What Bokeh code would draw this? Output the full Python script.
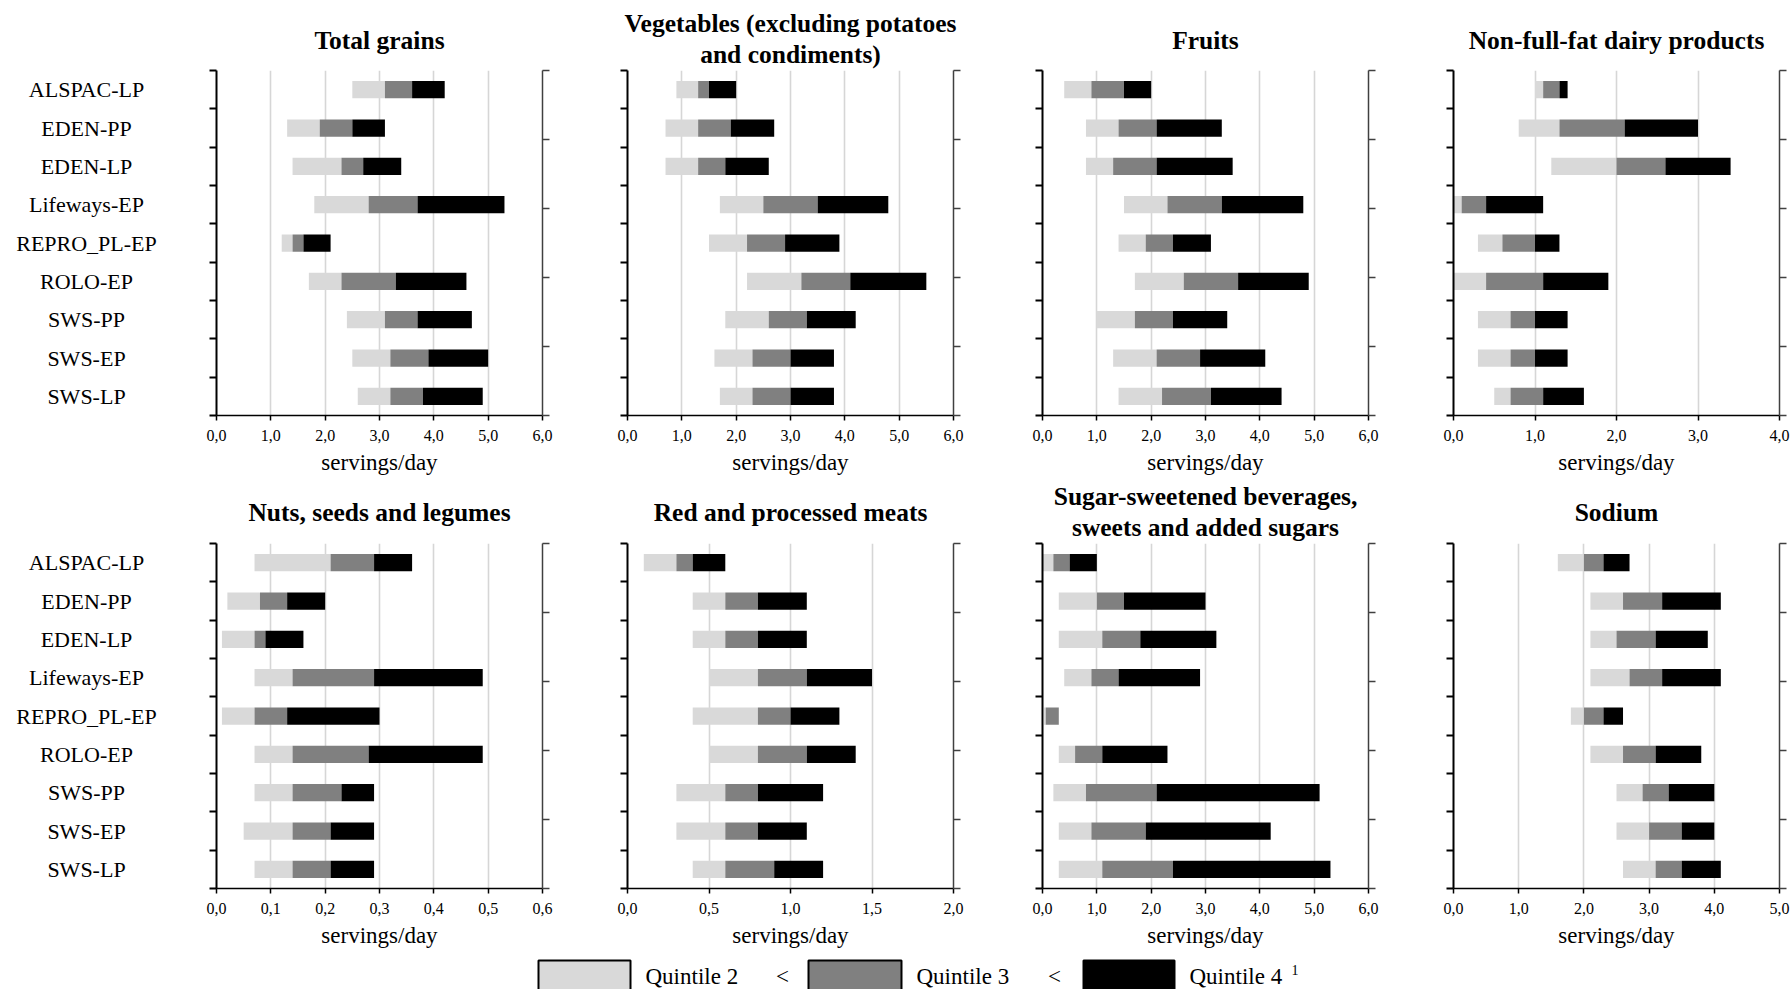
from bokeh.plotting import figure
from bokeh.models import (Range1d, FixedTicker, LinearAxis, CustomJSTickFormatter,
                          Title, Grid, ColumnDataSource)
from bokeh.layouts import row, column
from bokeh.embed import file_html
from bokeh.resources import INLINE
from bokeh.core.properties import value

FONT = "Liberation Serif"

cohorts = ["ALSPAC-LP", "EDEN-PP", "EDEN-LP", "Lifeways-EP", "REPRO_PL-EP",
           "ROLO-EP", "SWS-PP", "SWS-EP", "SWS-LP"]
quintile_names = ["Quintile 2", "Quintile 3", "Quintile 4"]
quintile_colors = ["#d9d9d9", "#808080", "#000000"]
x_label = "servings/day"

# cut-offs (servings/day): start of Q2, start of Q3, start of Q4, end of Q4
grains_c1 = [2.5, 1.3, 1.4, 1.8, 1.2, 1.7, 2.4, 2.5, 2.6]
grains_c2 = [3.1, 1.9, 2.3, 2.8, 1.4, 2.3, 3.1, 3.2, 3.2]
grains_c3 = [3.6, 2.5, 2.7, 3.7, 1.6, 3.3, 3.7, 3.9, 3.8]
grains_c4 = [4.2, 3.1, 3.4, 5.3, 2.1, 4.6, 4.7, 5.0, 4.9]

veg_c1 = [0.9, 0.7, 0.7, 1.7, 1.5, 2.2, 1.8, 1.6, 1.7]
veg_c2 = [1.3, 1.3, 1.3, 2.5, 2.2, 3.2, 2.6, 2.3, 2.3]
veg_c3 = [1.5, 1.9, 1.8, 3.5, 2.9, 4.1, 3.3, 3.0, 3.0]
veg_c4 = [2.0, 2.7, 2.6, 4.8, 3.9, 5.5, 4.2, 3.8, 3.8]

fruit_c1 = [0.4, 0.8, 0.8, 1.5, 1.4, 1.7, 1.0, 1.3, 1.4]
fruit_c2 = [0.9, 1.4, 1.3, 2.3, 1.9, 2.6, 1.7, 2.1, 2.2]
fruit_c3 = [1.5, 2.1, 2.1, 3.3, 2.4, 3.6, 2.4, 2.9, 3.1]
fruit_c4 = [2.0, 3.3, 3.5, 4.8, 3.1, 4.9, 3.4, 4.1, 4.4]

dairy_c1 = [1.0, 0.8, 1.2, 0.0, 0.3, 0.0, 0.3, 0.3, 0.5]
dairy_c2 = [1.1, 1.3, 2.0, 0.1, 0.6, 0.4, 0.7, 0.7, 0.7]
dairy_c3 = [1.3, 2.1, 2.6, 0.4, 1.0, 1.1, 1.0, 1.0, 1.1]
dairy_c4 = [1.4, 3.0, 3.4, 1.1, 1.3, 1.9, 1.4, 1.4, 1.6]

nuts_c1 = [0.07, 0.02, 0.01, 0.07, 0.01, 0.07, 0.07, 0.05, 0.07]
nuts_c2 = [0.21, 0.08, 0.07, 0.14, 0.07, 0.14, 0.14, 0.14, 0.14]
nuts_c3 = [0.29, 0.13, 0.09, 0.29, 0.13, 0.28, 0.23, 0.21, 0.21]
nuts_c4 = [0.36, 0.20, 0.16, 0.49, 0.30, 0.49, 0.29, 0.29, 0.29]

meat_c1 = [0.1, 0.4, 0.4, 0.5, 0.4, 0.5, 0.3, 0.3, 0.4]
meat_c2 = [0.3, 0.6, 0.6, 0.8, 0.8, 0.8, 0.6, 0.6, 0.6]
meat_c3 = [0.4, 0.8, 0.8, 1.1, 1.0, 1.1, 0.8, 0.8, 0.9]
meat_c4 = [0.6, 1.1, 1.1, 1.5, 1.3, 1.4, 1.2, 1.1, 1.2]

sugar_c1 = [0.0, 0.3, 0.3, 0.4, 0.03, 0.3, 0.2, 0.3, 0.3]
sugar_c2 = [0.2, 1.0, 1.1, 0.9, 0.06, 0.6, 0.8, 0.9, 1.1]
sugar_c3 = [0.5, 1.5, 1.8, 1.4, 0.3, 1.1, 2.1, 1.9, 2.4]
sugar_c4 = [1.0, 3.0, 3.2, 2.9, 0.3, 2.3, 5.1, 4.2, 5.3]

sodium_c1 = [1.6, 2.1, 2.1, 2.1, 1.8, 2.1, 2.5, 2.5, 2.6]
sodium_c2 = [2.0, 2.6, 2.5, 2.7, 2.0, 2.6, 2.9, 3.0, 3.1]
sodium_c3 = [2.3, 3.2, 3.1, 3.2, 2.3, 3.1, 3.3, 3.5, 3.5]
sodium_c4 = [2.7, 4.1, 3.9, 4.1, 2.6, 3.8, 4.0, 4.0, 4.1]

ticks_6 = [0, 1, 2, 3, 4, 5, 6]
ticks_4 = [0, 1, 2, 3, 4]
ticks_5 = [0, 1, 2, 3, 4, 5]
ticks_nuts = [0, 0.1, 0.2, 0.3, 0.4, 0.5, 0.6]
ticks_meat = [0, 0.5, 1.0, 1.5, 2.0]

panels_row1 = [
    (["Total grains"], (grains_c1, grains_c2, grains_c3, grains_c4), ticks_6),
    (["Vegetables (excluding potatoes", "and condiments)"], (veg_c1, veg_c2, veg_c3, veg_c4), ticks_6),
    (["Fruits"], (fruit_c1, fruit_c2, fruit_c3, fruit_c4), ticks_6),
    (["Non-full-fat dairy products"], (dairy_c1, dairy_c2, dairy_c3, dairy_c4), ticks_4),
]
panels_row2 = [
    (["Nuts, seeds and legumes"], (nuts_c1, nuts_c2, nuts_c3, nuts_c4), ticks_nuts),
    (["Red and processed meats"], (meat_c1, meat_c2, meat_c3, meat_c4), ticks_meat),
    (["Sugar-sweetened beverages,", "sweets and added sugars"], (sugar_c1, sugar_c2, sugar_c3, sugar_c4), ticks_6),
    (["Sodium"], (sodium_c1, sodium_c2, sodium_c3, sodium_c4), ticks_5),
]

FRAME_W = 326
FRAME_H = 345
LABEL_W = 186
LABEL_CENTER = 86
col_borders = [(30, 42), (43, 44), (45, 42), (43, 12)]
# (top border, bottom border, single-line title standoff)
row_borders = [(70, 64, 31), (63, 64, 33)]

n = len(cohorts)
y_centers = [i + 0.5 for i in range(n)]
fmt = CustomJSTickFormatter(code="return tick.toFixed(1).replace('.', ',');")
blank = CustomJSTickFormatter(code="return '';")


def make_panel(title_lines, cuts, ticks, bl, br, bt, bb, tsd):
    p = figure(frame_width=FRAME_W, frame_height=FRAME_H,
               x_range=Range1d(ticks[0], ticks[-1]), y_range=Range1d(n, 0),
               x_axis_type=None, y_axis_type=None,
               min_border_left=bl, min_border_right=br,
               min_border_top=bt, min_border_bottom=bb,
               output_backend="svg", toolbar_location=None)
    p.outline_line_color = None
    p.background_fill_color = "white"
    p.border_fill_color = "white"

    xaxis = LinearAxis(ticker=FixedTicker(ticks=ticks, minor_ticks=[]), formatter=fmt,
                       axis_label=x_label)
    xaxis.axis_line_width = 1.5
    xaxis.axis_line_color = "black"
    xaxis.major_tick_line_color = "black"
    xaxis.major_tick_line_width = 1.5
    xaxis.major_tick_out = 5
    xaxis.major_tick_in = 0
    xaxis.minor_tick_out = 0
    xaxis.minor_tick_in = 0
    xaxis.major_label_standoff = 9
    xaxis.major_label_text_font = FONT
    xaxis.major_label_text_font_size = "16px"
    xaxis.major_label_text_color = "black"
    xaxis.axis_label_text_font = FONT
    xaxis.axis_label_text_font_size = "23px"
    xaxis.axis_label_text_font_style = "normal"
    xaxis.axis_label_text_color = "black"
    xaxis.axis_label_standoff = 6
    p.add_layout(xaxis, "below")

    p.add_layout(Grid(dimension=0, ticker=xaxis.ticker, grid_line_color="#d6d6d6",
                      grid_line_width=1.6), "center")

    yaxis = LinearAxis(ticker=FixedTicker(ticks=list(range(n + 1)), minor_ticks=[]),
                       formatter=blank)
    yaxis.axis_line_width = 2
    yaxis.axis_line_color = "black"
    yaxis.major_tick_line_width = 2
    yaxis.major_tick_line_color = "black"
    yaxis.major_tick_out = 7
    yaxis.major_tick_in = 0
    yaxis.minor_tick_out = 0
    yaxis.minor_tick_in = 0
    yaxis.major_label_standoff = 0
    p.add_layout(yaxis, "left")

    p.extra_y_ranges = {"sec": Range1d(0, 1)}
    raxis = LinearAxis(y_range_name="sec",
                       ticker=FixedTicker(ticks=[0, 0.2, 0.4, 0.6, 0.8, 1.0], minor_ticks=[]),
                       formatter=blank)
    raxis.axis_line_width = 1.5
    raxis.axis_line_color = "#404040"
    raxis.major_tick_line_width = 1.5
    raxis.major_tick_line_color = "#404040"
    raxis.major_tick_out = 7
    raxis.major_tick_in = 0
    raxis.minor_tick_out = 0
    raxis.minor_tick_in = 0
    raxis.major_label_standoff = 0
    p.add_layout(raxis, "right")

    c1, c2, c3, c4 = cuts
    src = ColumnDataSource(dict(y=y_centers, c1=c1, c2=c2, c3=c3, c4=c4))
    for (l, r), col in zip((("c1", "c2"), ("c2", "c3"), ("c3", "c4")), quintile_colors):
        p.hbar(y="y", left=l, right=r, height=0.45, source=src,
               fill_color=col, line_color=None)

    tkw = dict(align="center", text_font=FONT, text_font_size="25.5px",
               text_font_style="bold", text_color="black")
    if len(title_lines) == 1:
        p.add_layout(Title(text=title_lines[0], standoff=tsd, **tkw), "above")
    else:
        p.add_layout(Title(text=title_lines[1], standoff=4, **tkw), "above")
        p.add_layout(Title(text=title_lines[0], standoff=-4, **tkw), "above")
    return p


def make_labels(bt, bb):
    p = figure(frame_width=LABEL_W, frame_height=FRAME_H,
               x_range=Range1d(0, LABEL_W), y_range=Range1d(n, 0),
               x_axis_type=None, y_axis_type=None,
               min_border_left=0, min_border_right=0,
               min_border_top=bt, min_border_bottom=bb,
               output_backend="svg", toolbar_location=None)
    p.outline_line_color = None
    p.grid.visible = False
    p.text(x=[LABEL_CENTER] * n, y=y_centers, text=cohorts,
           text_align="center", text_baseline="middle",
           text_font=value(FONT), text_font_size="22px", text_color="black")
    return p


rows = []
for panels, (bt, bb, tsd) in zip((panels_row1, panels_row2), row_borders):
    figs = [make_labels(bt, bb)]
    for (tl, cuts, ticks), (bl, br) in zip(panels, col_borders):
        figs.append(make_panel(tl, cuts, ticks, bl, br, bt, bb, tsd))
    rows.append(row(*figs, spacing=0))

# legend strip (x, y in page pixels)
LEG_W = 1791
LEG_TOP = 951
LEG_H = 38
leg = figure(width=LEG_W, height=LEG_H, x_range=Range1d(0, LEG_W),
             y_range=Range1d(LEG_TOP + LEG_H, LEG_TOP),
             x_axis_type=None, y_axis_type=None,
             min_border=0, output_backend="svg", toolbar_location=None)
leg.outline_line_color = None
leg.grid.visible = False
box_left = [538, 808, 1083]
box_right = [630, 901, 1174]
leg.quad(left=box_left, right=box_right, top=[959] * 3, bottom=[995] * 3,
         fill_color=quintile_colors, line_color="black", line_width=2)
leg.text(x=[645, 916, 1189], y=[975] * 3, text=quintile_names,
         text_align="left", text_baseline="middle",
         text_font=value(FONT), text_font_size="23px", text_color="black")
leg.text(x=[782, 1054], y=[975] * 2, text=["<", "<"],
         text_align="center", text_baseline="middle",
         text_font=value(FONT), text_font_size="23px", text_color="black")
leg.text(x=[1291], y=[968], text=["1"], text_align="left", text_baseline="middle",
         text_font=value(FONT), text_font_size="14px", text_color="black")

layout = column(rows[0], rows[1], leg, spacing=0)
open("out.html", "w").write(file_html(layout, INLINE))
